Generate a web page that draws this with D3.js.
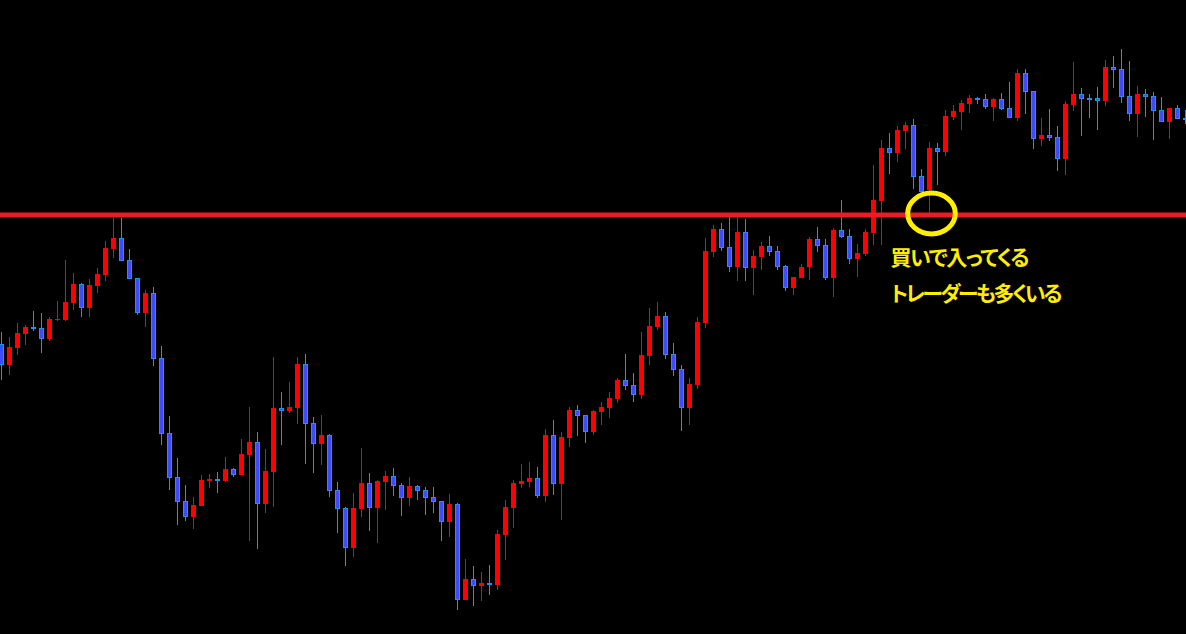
<!DOCTYPE html>
<html>
<head>
<meta charset="utf-8">
<script src="https://cdn.jsdelivr.net/npm/d3@7"></script>
<style>
  html, body { margin: 0; padding: 0; background: #000; overflow: hidden; }
  svg { display: block; }
  .note { font-feature-settings: "palt"; }
</style>
</head>
<body>
<div id="container"></div>
<script>
const width = 1186;
const height = 634;

// OHLC prices, one candle per bar (oldest first)
const open = [
  106.56,106.35,106.52,106.66,106.73,106.72,106.61,106.80,106.80,106.97,
  107.16,106.92,107.14,107.25,107.51,107.62,107.40,107.22,106.87,107.07,
  106.42,105.67,105.23,104.99,104.83,104.94,105.19,105.21,105.19,105.31,
  105.25,105.45,105.58,104.96,105.28,105.92,105.89,105.92,106.36,105.77,
  105.56,105.65,105.10,104.92,104.52,104.91,105.17,104.92,105.18,105.24,
  105.15,105.02,105.14,105.10,105.03,104.99,104.78,104.96,104.00,104.21,
  104.14,104.17,104.15,104.65,104.92,105.16,105.18,105.22,105.04,105.65,
  105.16,105.62,105.90,105.85,105.68,105.88,105.92,106.01,106.20,106.15,
  106.05,106.44,106.73,106.84,106.46,106.31,105.92,106.15,106.77,107.48,
  107.71,107.53,107.33,107.68,107.32,107.43,107.54,107.49,107.34,107.12,
  107.22,107.33,107.61,107.55,107.22,107.70,107.64,107.41,107.46,107.67,
  107.99,108.52,108.47,108.69,108.75,108.24,108.10,108.52,108.48,108.83,
  108.88,108.96,109.02,109.01,108.93,109.01,108.92,108.82,109.27,109.09,
  108.61,108.65,108.63,108.41,108.95,109.06,109.02,109.02,108.99,109.33,
  109.31,109.04,108.86,109.06,109.04,108.90,108.78,108.92,108.82
];
const high = [
  106.68,106.63,106.77,106.75,106.89,106.87,106.83,106.99,107.40,107.27,
  107.17,107.21,107.32,107.59,107.82,107.82,107.51,107.22,107.10,107.13,
  106.54,105.84,105.42,105.15,105.03,105.25,105.26,105.28,105.43,105.32,
  105.61,105.93,105.68,105.51,106.43,106.08,106.18,106.43,106.46,105.83,
  105.85,105.66,105.18,104.93,105.07,105.52,105.27,105.20,105.29,105.32,
  105.17,105.23,105.15,105.13,105.13,104.99,105.06,104.97,104.41,104.34,
  104.28,104.35,104.70,105.00,105.20,105.36,105.38,105.33,105.71,105.80,
  105.68,105.93,105.95,105.85,105.90,105.98,106.08,106.22,106.46,106.27,
  106.68,106.92,106.98,106.88,106.57,106.35,106.22,106.83,107.62,107.75,
  107.77,107.84,107.84,107.81,107.50,107.58,107.64,107.54,107.35,107.23,
  107.36,107.63,107.73,107.61,107.72,108.00,107.71,107.56,107.71,108.35,
  108.60,108.67,108.74,108.78,108.81,108.31,108.58,108.57,108.90,108.95,
  109.00,109.05,109.03,109.06,109.02,109.07,109.18,109.31,109.31,109.09,
  108.82,108.91,108.74,108.99,109.38,109.12,109.06,109.13,109.40,109.44,
  109.51,109.39,109.14,109.11,109.08,109.03,108.92,108.95,108.90
];
const low = [
  106.20,106.25,106.45,106.55,106.69,106.47,106.59,106.79,106.79,106.90,
  106.83,106.83,107.07,107.19,107.42,107.39,107.21,106.85,106.73,106.34,
  105.55,105.10,104.75,104.79,104.71,104.94,105.12,105.07,105.18,105.23,
  105.25,104.59,104.51,104.87,104.93,105.55,105.87,105.76,105.36,105.27,
  105.35,105.03,104.67,104.34,104.43,104.83,104.69,104.57,104.90,105.04,
  104.84,104.94,105.00,104.85,104.87,104.59,104.63,103.90,104.00,103.94,
  103.99,104.05,104.10,104.40,104.72,105.12,105.13,105.02,104.98,105.05,
  104.80,105.53,105.64,105.57,105.65,105.75,105.82,105.97,106.10,105.98,
  106.01,106.35,106.70,106.41,106.24,105.69,105.75,106.11,106.72,107.43,
  107.49,107.28,107.19,107.19,107.05,107.30,107.44,107.30,107.09,107.05,
  107.22,107.20,107.48,107.20,107.03,107.62,107.36,107.23,107.44,107.55,
  107.55,108.26,108.38,108.51,108.11,108.08,107.87,108.15,108.44,108.80,
  108.70,108.87,108.96,108.91,108.79,108.90,108.82,108.79,108.86,108.51,
  108.54,108.59,108.29,108.25,108.89,108.64,108.82,108.70,108.94,109.12,
  108.97,108.79,108.63,108.83,108.60,108.78,108.61,108.81,108.76
];
const close = [
  106.35,106.53,106.67,106.73,106.71,106.61,106.81,106.81,106.98,107.16,
  106.92,107.15,107.26,107.52,107.62,107.39,107.21,106.87,107.07,106.41,
  105.66,105.22,104.98,104.83,104.95,105.20,105.21,105.19,105.31,105.25,
  105.46,105.58,104.96,105.29,105.92,105.89,105.93,106.36,105.76,105.56,
  105.65,105.09,104.91,104.52,104.92,105.17,104.92,105.19,105.24,105.14,
  105.02,105.14,105.09,105.02,104.98,104.78,104.96,104.00,104.21,104.14,
  104.17,104.15,104.66,104.93,105.17,105.19,105.22,105.04,105.65,105.16,
  105.63,105.90,105.84,105.68,105.89,105.93,106.02,106.20,106.14,106.05,
  106.45,106.74,106.84,106.45,106.30,105.92,106.16,106.78,107.49,107.71,
  107.52,107.33,107.68,107.32,107.44,107.54,107.48,107.33,107.12,107.23,
  107.33,107.61,107.54,107.22,107.70,107.63,107.41,107.47,107.68,108.00,
  108.52,108.47,108.70,108.75,108.23,108.08,108.52,108.48,108.84,108.89,
  108.97,109.02,109.00,108.93,109.01,108.91,108.82,109.27,109.08,108.61,
  108.65,108.62,108.41,108.96,109.06,109.01,109.01,108.99,109.33,109.30,
  109.03,108.86,109.06,109.03,108.89,108.78,108.92,108.81,108.81
];

// resistance line and annotation
const lineLevel = 107.85;
const markIndex = 116;
const noteLines = ["買いで入ってくる", "トレーダーも多くいる"];

const candles = open.map((o, i) => ({ i: i, o: o, h: high[i], l: low[i], c: close[i] }));

// colours (red = up, blue = down)
const upColor = "#ff0000";
const downFill = "#3c4cff";
const downLine = "#1e90ff";

const x = d3.scaleLinear()
  .domain([0, candles.length - 1])
  .range([1.5, 1.5 + 8 * (candles.length - 1)]);

const y = d3.scaleLinear()
  .domain([110 - height / 100, 110])
  .range([height, 0]);

let svg = d3.select("#container")
  .append("svg")
  .attr("width", width)
  .attr("height", height)
  .style("background", "#000");

// wicks
svg.append("g")
  .selectAll("line")
  .data(candles)
  .enter()
  .append("line")
  .attr("x1", d => x(d.i))
  .attr("x2", d => x(d.i))
  .attr("y1", d => Math.round(y(d.h)))
  .attr("y2", d => Math.round(y(d.l)))
  .attr("stroke", d => d.c >= d.o ? upColor : downLine)
  .attr("stroke-width", 1)
  .attr("shape-rendering", "crispEdges");

// bodies
svg.append("g")
  .selectAll("rect")
  .data(candles)
  .enter()
  .append("rect")
  .attr("x", d => d.c >= d.o ? x(d.i) - 2.5 : x(d.i) - 2)
  .attr("width", d => d.c >= d.o ? 5 : 4)
  .attr("y", d => {
    const top = Math.round(y(Math.max(d.o, d.c)));
    return d.c >= d.o ? top : top + 0.5;
  })
  .attr("height", d => {
    const hgt = Math.max(1, Math.round(y(Math.min(d.o, d.c))) - Math.round(y(Math.max(d.o, d.c))));
    return d.c >= d.o ? hgt : Math.max(1, hgt - 1);
  })
  .attr("fill", d => d.c >= d.o ? upColor : downFill)
  .attr("stroke", d => d.c >= d.o ? "none" : downLine)
  .attr("stroke-width", 1)
  .attr("shape-rendering", "crispEdges");

// horizontal resistance line
svg.append("line")
  .attr("x1", 0)
  .attr("x2", width)
  .attr("y1", y(lineLevel))
  .attr("y2", y(lineLevel))
  .attr("stroke", "#ed1c24")
  .attr("stroke-width", 5);

// yellow circle where the price touches the line
svg.append("ellipse")
  .attr("cx", x(markIndex) + 2)
  .attr("cy", y(lineLevel) - 1.5)
  .attr("rx", 23.8)
  .attr("ry", 20.4)
  .attr("fill", "none")
  .attr("stroke", "#ffee00")
  .attr("stroke-width", 5);

// annotation text
const noteWidths = [139, 172];
svg.append("g")
  .selectAll("text")
  .data(noteLines)
  .enter()
  .append("text")
  .attr("class", "note")
  .attr("x", 890.5)
  .attr("y", (d, i) => 265 + i * 35.5)
  .attr("textLength", (d, i) => noteWidths[i])
  .attr("lengthAdjust", "spacing")
  .attr("fill", "#ffee00")
  .attr("font-family", "'Noto Sans CJK JP', sans-serif")
  .attr("font-weight", "bold")
  .attr("font-size", 21)
  .text(d => d);
</script>
</body>
</html>
